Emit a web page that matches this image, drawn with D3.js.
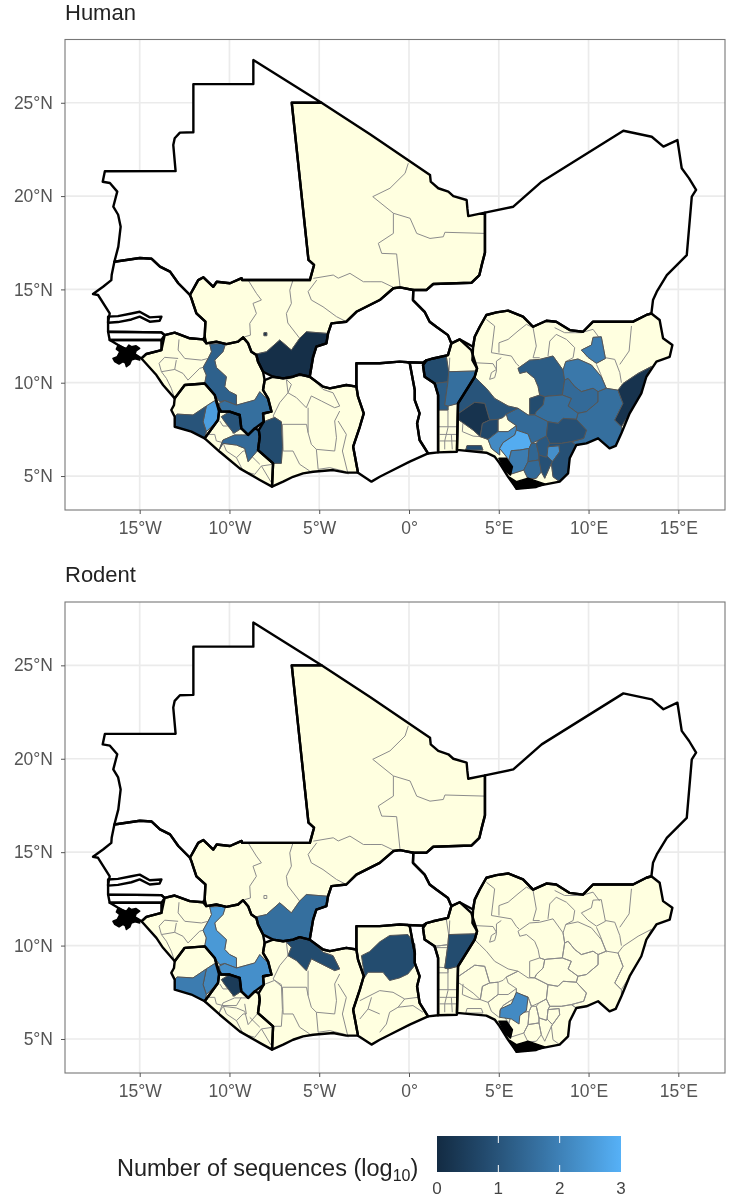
<!DOCTYPE html>
<html>
<head>
<meta charset="utf-8">
<script src="https://cdn.jsdelivr.net/npm/d3@7"></script>
<style>
  body { margin: 0; background: #fff; }
  text { font-family: "Liberation Sans", Arial, sans-serif; }
  svg { display: block; filter: blur(0.35px); }
</style>
</head>
<body>
<div id="chart"></div>
<script>
// everything below is [lon, lat]
const xTicks = [-15, -10, -5, 0, 5, 10, 15];
const yTicks = [5, 10, 15, 20, 25];
const lonRange = [-19.16, 17.6];
const latRange = [3.18, 28.39];
const legendTicks = [0, 1, 2, 3];

// country borders
const mauritania = [[-8.67,27.29],[-8.67,26],[-12.01,26],[-12.01,23.42],[-12.76,23.4],[-13.05,23.1],[-13.13,22.74],[-13,21.34],[-16.94,21.33],[-17.06,20.77],[-16.66,20.7],[-16.25,20.24],[-16.47,19.43],[-16.2,19],[-16.06,18.36],[-16.19,17.29],[-16.41,16.48],[-14.99,16.68],[-14.33,16.64],[-13.87,16.22],[-13.31,15.95],[-12.85,15.33],[-12.2,14.7],[-11.74,15.5],[-11.45,15.65],[-10.9,15.14],[-10.71,15.41],[-9.97,15.33],[-9.32,15.6],[-9.3,15.5],[-5.52,15.5],[-5.29,16.31],[-5.6,16.58],[-6.53,25],[-4.87,25]];
const mali = [[-6.53,25],[-4.87,25],[-2.17,23.31],[1.17,21.13],[1.21,20.77],[1.63,20.42],[2.19,20.24],[2.47,20],[3.21,19.79],[3.25,19.35],[3.3,18.93],[4.23,19.11],[4.23,16.97],[4.05,16.3],[3.92,15.77],[3.49,15.36],[1.35,15.29],[0.98,14.97],[0.24,14.97],[-0.5,15.11],[-0.87,15.06],[-1.63,14.43],[-2.93,13.8],[-3.49,13.27],[-4.32,13.18],[-4.51,12.64],[-4.6,12.11],[-5.16,11.93],[-5.34,11.39],[-5.53,10.32],[-6.09,10.45],[-6.46,10.32],[-7.01,10.23],[-7.57,10.32],[-8.13,10.59],[-8.41,11.13],[-8.5,11.48],[-8.78,11.66],[-8.96,12.11],[-9.24,12.43],[-9.52,12.2],[-10.17,12.07],[-10.73,12.2],[-11.29,12.11],[-11.38,12.46],[-11.34,13.27],[-11.84,13.71],[-12.03,14.25],[-12.12,14.52],[-12.2,14.7],[-11.74,15.5],[-11.45,15.65],[-10.9,15.14],[-10.71,15.41],[-9.97,15.33],[-9.32,15.6],[-9.3,15.5],[-5.52,15.5],[-5.29,16.31],[-5.6,16.58]];
const niger = [[4.23,19.11],[5.81,19.43],[7.39,20.77],[11.94,23.5],[13.52,23.18],[14.17,22.65],[14.95,23],[15.19,21.49],[15.6,20.95],[15.99,20.33],[15.75,19.97],[15.47,16.84],[14.36,15.77],[13.8,14.88],[13.59,14.43],[13.5,13.71],[13.22,13.63],[12.48,13.27],[10.99,13.27],[10.25,13.27],[9.69,12.73],[8.95,12.82],[8.2,13.27],[7.65,13.32],[6.91,13],[6.35,13.54],[5.52,13.86],[4.87,13.77],[4.31,13.63],[3.94,13],[3.66,12.46],[3.57,11.93],[2.82,12.32],[2.36,12.11],[2.17,12.55],[1.52,13],[1.15,13.27],[0.87,13.8],[0.22,14.43],[0.24,14.97],[0.98,14.97],[1.35,15.29],[3.49,15.36],[3.92,15.77],[4.05,16.3],[4.23,16.97]];
const burkina = [[0.24,14.97],[-0.5,15.11],[-0.87,15.06],[-1.63,14.43],[-2.93,13.8],[-3.49,13.27],[-4.32,13.18],[-4.51,12.64],[-4.6,12.11],[-5.16,11.93],[-5.34,11.39],[-5.53,10.32],[-4.79,9.79],[-4.41,9.7],[-3.49,9.88],[-2.93,9.79],[-2.93,11.04],[-1.63,11.04],[-0.52,11.13],[-0.06,11.1],[0.78,11.07],[0.97,11.2],[1.34,11.3],[2.17,11.48],[2.36,12.11],[2.17,12.55],[1.52,13],[1.15,13.27],[0.87,13.8],[0.22,14.43]];
const senegal = [[-16.41,16.48],[-14.99,16.68],[-14.33,16.64],[-13.87,16.22],[-13.31,15.95],[-12.85,15.33],[-12.2,14.7],[-12.12,14.52],[-12.03,14.25],[-11.84,13.71],[-11.34,13.27],[-11.38,12.46],[-11.47,12.32],[-12.21,12.38],[-13.05,12.68],[-13.61,12.55],[-13.79,12.7],[-16.76,12.73],[-16.76,13.27],[-16.67,13.71],[-17.32,14.7],[-17.6,14.75],[-17.04,15.14],[-16.58,15.5],[-16.56,15.77]];
const gambia = [[-16.76,13.54],[-16.21,13.57],[-15.46,13.71],[-15,13.8],[-14.44,13.5],[-13.79,13.54],[-13.89,13.32],[-14.44,13.27],[-15,13.54],[-15.46,13.39],[-16.21,13.25],[-16.76,13.21]];
const casamance = [[-16.76,12.73],[-13.79,12.7],[-13.61,12.55],[-13.79,12.29],[-16.67,12.29]];
const guineaBissau = [[-13.79,12.29],[-13.79,11.75],[-14.63,11.54],[-14.9,11.3],[-15.4,11.6],[-16.2,12.02],[-16.67,12.29]];
const bissagos = [[-16.49,11.3],[-16.25,11.4],[-16.11,11.66],[-16.3,11.8],[-16.2,12.02],[-15.95,11.9],[-15.74,11.84],[-15.6,12.02],[-15.46,11.93],[-15.2,11.98],[-15,11.84],[-15.2,11.7],[-15.28,11.48],[-15.05,11.4],[-15,11.21],[-15.25,11.28],[-15.46,11.21],[-15.55,11],[-15.74,10.86],[-15.8,11.05],[-15.93,11.13],[-16.15,11],[-16.39,11.13]];
const guinea = [[-13.61,12.55],[-13.05,12.68],[-12.21,12.38],[-11.47,12.32],[-11.29,12.11],[-10.73,12.2],[-10.17,12.07],[-9.52,12.2],[-9.24,12.43],[-8.96,12.11],[-8.78,11.66],[-8.5,11.48],[-8.41,11.13],[-8.13,10.59],[-8.04,10.14],[-8.13,9.61],[-7.85,9.16],[-7.66,8.45],[-8.13,8.36],[-8.09,7.91],[-8.59,7.55],[-8.96,7.2],[-9.34,7.55],[-9.43,8.27],[-9.99,8.45],[-10.45,8.45],[-10.58,8.63],[-10.82,9.34],[-11.38,9.96],[-12.49,9.88],[-13.05,9.16],[-13.7,9.88],[-14.07,10.41],[-14.9,11.3],[-14.63,11.54],[-13.79,11.75]];
const sierraLeone = [[-13.09,8.8],[-13.05,9.16],[-12.49,9.88],[-11.38,9.96],[-10.82,9.34],[-10.58,8.45],[-10.64,8],[-11.38,7.02],[-12.12,7.38],[-13.05,7.64],[-13.05,8.18],[-13.24,8.54]];
const liberia = [[-11.38,7.02],[-10.64,8],[-10.58,8.45],[-9.99,8.45],[-9.43,8.27],[-9.34,7.55],[-8.96,7.2],[-8.59,7.55],[-8.37,7.46],[-8.31,7.11],[-8.41,6.39],[-7.57,5.68],[-7.63,4.43],[-8.31,4.79],[-9.43,5.41],[-10.54,6.3]];
const ivoryCoast = [[-7.57,10.32],[-8.04,10.14],[-8.13,9.61],[-7.85,9.16],[-7.66,8.45],[-8.13,8.36],[-8.09,7.91],[-8.37,7.46],[-8.31,7.11],[-8.41,6.39],[-7.57,5.68],[-7.63,4.43],[-7.01,4.7],[-6.46,4.96],[-5.9,5.14],[-5.34,5.23],[-4.23,5.32],[-3.49,5.18],[-2.84,5.18],[-3.11,6.57],[-2.74,7.64],[-2.52,8.36],[-2.84,9.25],[-2.93,9.79],[-3.49,9.88],[-4.41,9.7],[-4.79,9.79],[-5.53,10.32],[-6.09,10.45],[-6.46,10.32],[-7.01,10.23]];
const ghana = [[-2.93,11.04],[-1.63,11.04],[-0.52,11.13],[-0.06,11.1],[0.04,11.04],[0.32,9.61],[0.32,9.07],[0.59,8.36],[0.45,7.82],[0.59,6.93],[1.06,6.21],[0.04,5.77],[-1.08,5.23],[-1.63,4.96],[-2.09,4.7],[-2.84,5.18],[-3.11,6.57],[-2.74,7.64],[-2.52,8.36],[-2.84,9.25],[-2.93,9.79]];
const togo = [[-0.06,11.1],[0.78,11.07],[0.97,11.2],[0.78,10.95],[0.87,10.32],[1.43,9.96],[1.62,9.34],[1.62,6.27],[1.06,6.21],[0.59,6.93],[0.45,7.82],[0.59,8.36],[0.32,9.07],[0.32,9.61],[0.04,11.04]];
const benin = [[0.87,10.32],[0.78,10.95],[0.97,11.2],[1.34,11.3],[2.17,11.48],[2.36,12.11],[2.82,12.32],[3.47,11.75],[3.79,10.77],[3.66,10.32],[2.73,8.89],[2.67,6.3],[1.62,6.27],[1.62,9.34],[1.43,9.96]];
const nigeria = [[3.57,11.93],[3.53,11.21],[3.79,10.77],[3.66,10.32],[2.73,8.89],[2.67,6.4],[4.31,6.25],[4.77,6.04],[5.05,5.68],[5.52,4.96],[5.98,4.34],[7.09,4.46],[8.39,4.7],[8.86,5.14],[8.95,5.95],[9.32,6.66],[9.88,6.75],[10.53,7.02],[11.17,6.48],[11.51,6.61],[11.83,7.29],[12.29,8.36],[12.94,9.43],[13.22,10.32],[13.78,11.13],[14.52,11.39],[14.67,12.02],[14.15,12.38],[13.96,13.36],[13.5,13.71],[13.22,13.63],[12.48,13.27],[10.99,13.27],[10.25,13.27],[9.69,12.73],[8.95,12.82],[8.2,13.27],[7.65,13.32],[6.91,13],[6.35,13.54],[5.52,13.86],[4.87,13.77],[4.31,13.63],[3.94,13],[3.66,12.46]];
const nigerDeltaWest = [[5.01,5.95],[5.42,5.95],[5.76,5.5],[5.65,5.05],[5.33,5.32]];
const nigerDeltaSouth = [[5.61,4.93],[5.98,4.7],[6.63,4.88],[7.19,4.7],[7.56,4.57],[7.09,4.39],[5.98,4.29]];

const countryNames = ["mauritania","mali","niger","burkina","senegal","gambia","casamance","guineaBissau","guinea","sierraLeone","liberia","ivoryCoast","ghana","togo","benin","nigeria"];
const countryShapes = [mauritania,mali,niger,burkina,senegal,gambia,casamance,guineaBissau,guinea,sierraLeone,liberia,ivoryCoast,ghana,togo,benin,nigeria];
const humanSampled = ["mali","guinea","sierraLeone","liberia","ivoryCoast","benin","nigeria"];
const rodentSampled = ["mali","guinea","sierraLeone","liberia","ivoryCoast","ghana","benin","nigeria"];

// admin units with a value in at least one panel
const sikasso = [[-8.5,11.54],[-7.94,11.66],[-7.2,12.29],[-6.55,11.75],[-6.09,12.38],[-5.72,12.73],[-4.51,12.64],[-4.6,12.11],[-5.16,11.93],[-5.34,11.39],[-5.53,10.32],[-6.09,10.45],[-6.46,10.32],[-7.01,10.23],[-7.57,10.32],[-8.13,10.59],[-8.41,11.13]];
const bamako = [[-8.08,12.68],[-7.92,12.68],[-7.92,12.52],[-8.08,12.52]];
const kankan = [[-11.1,12.07],[-10.21,12.11],[-10.36,11.66],[-10.82,11.21],[-10.73,10.82],[-10.17,10.32],[-10.26,9.79],[-9.99,9.52],[-9.61,9.34],[-9.61,8.8],[-10.26,9.04],[-10.54,8.98],[-10.82,9.34],[-11.38,9.96],[-11.29,10.41],[-11.47,10.82],[-11.19,11.3],[-11,11.66]];
const nzerekore = [[-9.61,8.8],[-8.59,9.07],[-8.31,9.52],[-7.85,9.07],[-7.66,8.45],[-8.13,8.27],[-8.09,7.91],[-8.59,7.55],[-8.96,7.2],[-9.34,7.55],[-9.43,8.27],[-9.99,8.5],[-10.45,8.45],[-10.58,8.89],[-10.26,9.04]];
const slEast = [[-11.29,8.75],[-10.82,9.04],[-10.58,8.45],[-10.64,8],[-11.29,7.38],[-11.47,7.91]];
const slSouth = [[-12.92,8.32],[-12.03,8.27],[-11.29,8.75],[-11.47,7.91],[-11.29,7.38],[-11.38,7.02],[-12.12,7.38],[-13.05,7.64],[-13.05,8.18]];
const lofa = [[-10.45,8.18],[-9.99,8.45],[-9.43,8.27],[-9.34,7.55],[-9.76,7.29],[-10.26,7.91]];
const bongNimba = [[-10.58,6.39],[-10.36,6.93],[-9.71,7.2],[-8.96,7.2],[-8.59,7.55],[-8.37,7.46],[-8.41,6.39],[-8.96,5.77],[-9.15,6.48],[-9.61,6.66],[-10.36,6.75]];
const manRegion = [[-8.09,7.91],[-7.48,8.14],[-7.11,7.91],[-7.05,6.57],[-7.11,5.68],[-7.57,5.68],[-8.41,6.39],[-8.31,7.11],[-8.37,7.46]];
const ciNorth = [[-6.83,10.18],[-6.27,10.36],[-5.53,10.36],[-4.79,9.64],[-4.23,9.46],[-3.86,8.75],[-4.14,8.66],[-4.88,9.02],[-5.44,9.29],[-5.72,8.66],[-6.27,9.2],[-6.74,9.46],[-6.55,9.91]];
const ghanaNorth = [[-2.65,9.46],[-2.19,9.68],[-1.63,10.2],[-1.08,10.54],[-0.06,10.59],[0.32,10.09],[0.37,9.55],[0.32,8.93],[-0.06,8.48],[-0.52,8.27],[-1.08,8.13],[-1.45,8.57],[-2.28,8.57],[-2.47,8.3]];
const atacora = [[0.87,10.32],[0.78,10.95],[0.97,11.2],[1.34,11.3],[2.08,11.4],[2.21,10.59],[2.17,10.05],[1.43,9.96]];
const donga = [[1.43,9.96],[2.17,10.05],[1.99,8.8],[2.17,8.75],[2.17,8.54],[1.62,8.54],[1.62,9.34]];
const borgou = [[2.21,10.59],[3.79,10.63],[3.66,10.32],[2.73,8.89],[2.17,8.75],[1.99,8.8],[2.17,10.05]];
const kaduna = [[6.07,10.77],[6.72,11.21],[7.28,11.25],[8.02,11.43],[8.58,10.68],[8.67,10.14],[8.54,9.34],[7.74,9.28],[7.56,9.25],[7.28,9.34],[7.19,9.79],[7,10.23],[6.54,10.59],[6.17,10.5]];
const bauchi = [[8.73,11.13],[9.41,11.27],[10.16,10.95],[10.71,10.32],[10.99,9.7],[10.53,9.52],[10.25,9.7],[9.6,9.52],[9.23,9.79],[8.86,10.23],[8.67,10.14],[8.58,10.68]];
const jigawa = [[10.25,12.43],[10.71,12.46],[10.94,11.3],[10.44,11.04],[9.97,11.36],[9.6,11.75],[10.16,12.02]];
const plateau = [[8.67,10.14],[8.86,10.23],[9.23,9.79],[9.6,9.52],[10.25,9.7],[10.53,9.52],[10.53,8.98],[9.88,8.45],[9.41,8.36],[8.86,8.75],[9.04,9.16],[8.54,9.34]];
const taraba = [[10.53,9.52],[10.99,9.7],[11.64,9.6],[11.92,8.89],[11.46,8],[11.83,7.64],[11.83,7.29],[11.51,6.61],[11.17,6.48],[10.53,7.02],[9.88,6.75],[9.32,6.66],[9.04,6.84],[9.73,7.02],[9.88,7.46],[9.32,8.04],[9.41,8.36],[9.88,8.45],[10.53,8.98]];
const adamawa = [[11.92,9.96],[12.76,10.5],[13.5,10.87],[13.22,10.32],[12.94,9.43],[12.29,8.36],[11.83,7.64],[11.46,8],[11.92,8.89],[11.64,9.6]];
const fct = [[6.72,9.16],[7.28,9.34],[7.56,9.25],[7.47,8.8],[7.09,8.45],[7,8.27],[6.72,8.3]];
const nasarawa = [[7.56,9.25],[7.74,9.28],[8.54,9.34],[9.04,9.16],[8.86,8.75],[9.41,8.36],[9.32,8.04],[8.58,8.09],[8.3,7.82],[7.74,7.91],[7,8.27],[7.09,8.45],[7.47,8.8]];
const kogi = [[5.42,8.32],[6.07,8.63],[6.63,8.27],[7,8.27],[7.74,7.91],[7.65,7.14],[7.24,6.93],[6.82,6.75],[6.63,7.25],[5.98,7.46],[5.98,7.7],[5.52,8]];
const benue = [[7.74,7.91],[8.3,7.82],[8.58,8.09],[9.32,8.04],[9.88,7.46],[9.73,7.02],[9.04,6.84],[8.49,6.75],[7.84,6.75],[7.65,7.14]];
const kwara = [[2.73,8.89],[3.66,10.32],[3.94,10.05],[4.31,9.7],[4.77,9.16],[5.52,8.75],[6.07,8.63],[5.42,8.32],[5.24,8.14],[4.96,8.04],[4.49,8],[4.22,8.89],[3.66,8.95],[2.77,8.36]];
const oyo = [[2.77,8.36],[3.66,8.95],[4.22,8.89],[4.49,8],[4.09,7.82],[3.97,7.11],[3.57,7.46],[2.92,7.91],[2.77,8]];
const osun = [[4.09,7.82],[4.49,8],[4.96,8.04],[4.96,7.38],[4.4,6.96],[3.97,7.11]];
const ondo = [[4.4,6.96],[4.96,7.38],[5.52,7.38],[5.98,7.7],[5.98,7.46],[5.89,7.2],[5.24,6.79],[5.05,6.48],[5.05,6.13],[4.59,6.48]];
const edo = [[5.98,7.46],[6.63,7.25],[6.82,6.75],[6.69,6.48],[6.17,6.39],[5.7,6.36],[5.57,5.86],[5.05,6.48],[5.24,6.79],[5.89,7.2]];
const edoDelta = [[5.98,7.5],[6.63,7.23],[6.54,6.52],[6.17,6.25],[6.13,5.8],[5.7,6.07],[5.05,6.16],[5.09,6.61],[5.7,6.88]];
const delta = [[5.7,6.36],[6.17,6.39],[6.69,6.48],[6.63,5.77],[6.39,5.32],[5.7,5.11],[5.57,5.86]];
const anambra = [[6.82,6.75],[7.09,6.75],[7.24,6.13],[7.24,5.86],[6.63,5.77],[6.69,6.48]];
const enugu = [[7.09,6.75],[7.24,6.93],[7.65,7.14],[7.84,6.75],[7.74,6.57],[7.69,6.07],[7.65,6],[7.24,6.13]];
const ebonyi = [[7.74,6.57],[8.36,6.63],[8.39,6.3],[7.99,5.77],[7.69,6.07]];
const crossRiver = [[7.84,6.75],[8.49,6.75],[9.04,6.84],[9.32,6.66],[8.95,5.95],[8.86,5.14],[8.39,4.7],[8.02,4.96],[7.93,5.68],[7.99,5.77],[8.39,6.3],[8.36,6.63],[7.74,6.57]];
const imo = [[6.63,5.77],[7.24,5.86],[7.37,5.23],[7.09,4.88],[6.63,4.84],[6.39,5.32]];
const akwaIbom = [[7.24,5.86],[7.24,6.13],[7.65,6],[7.69,6.07],[7.99,5.77],[7.93,5.68],[7.56,4.88],[7.37,5.23]];
const lagos = [[3.23,6.63],[4.03,6.63],[4.12,6.39],[3.16,6.39]];

const regionNames = ["sikasso","bamako","kankan","nzerekore","slEast","slSouth","lofa","bongNimba","manRegion","ciNorth","atacora","donga","borgou","kaduna","bauchi","jigawa","plateau","taraba","adamawa","fct","nasarawa","kogi","benue","kwara","oyo","osun","ondo","edo","delta","anambra","enugu","ebonyi","crossRiver","imo","akwaIbom","lagos","ghanaNorth","edoDelta"];
const regionShapes = [sikasso,bamako,kankan,nzerekore,slEast,slSouth,lofa,bongNimba,manRegion,ciNorth,atacora,donga,borgou,kaduna,bauchi,jigawa,plateau,taraba,adamawa,fct,nasarawa,kogi,benue,kwara,oyo,osun,ondo,edo,delta,anambra,enugu,ebonyi,crossRiver,imo,akwaIbom,lagos,ghanaNorth,edoDelta];
const notOutlined = ["ghanaNorth","edoDelta"];

// log10 sequence counts
const humanNames = ["sikasso","bamako","kankan","nzerekore","slEast","slSouth","lofa","bongNimba","manRegion","atacora","donga","borgou","kaduna","bauchi","jigawa","plateau","taraba","adamawa","fct","nasarawa","kogi","benue","kwara","oyo","osun","ondo","edo","delta","anambra","enugu","ebonyi","crossRiver","imo","akwaIbom","lagos"];
const humanValues = [0.1,0.1,1.3,1.6,2.6,1.0,1.0,1.5,0.8,0.8,1.2,1.6,1.2,1.8,1.9,1.5,1.6,0.2,0.8,1.6,1.5,0.9,1.0,0.2,0.7,2.2,2.9,1.9,1.4,1.1,2.3,0.9,1.5,0.9,0.8];
const rodentNames = ["kankan","nzerekore","slEast","slSouth","lofa","sikasso","ciNorth","ghanaNorth","borgou","edoDelta"];
const rodentValues = [2.5,2.3,2.1,1.9,0.4,1.6,0.8,0.8,0.8,2.2];

// thin internal boundaries of the units with no value
const maliLines = [
  [[-0.04,21.76],[-0.22,21.22],[-1.06,20.42],[-2.02,19.97],[-0.87,19.08],[-0.87,18],[-1.71,17.47],[-1.52,16.93],[-0.69,16.9],[-0.5,15.14]],
  [[-0.87,19.08],[0.06,18.81],[0.43,18],[1.17,17.73],[1.91,17.82],[2,18.06],[4.23,18]],
  [[-5.33,15.59],[-4.22,15.77],[-3.94,15.6],[-3.29,15.86],[-2.54,15.41],[-2.17,15.41],[-1.52,15.41],[-0.87,15.11]],
  [[-8.96,15.5],[-8.5,14.79],[-8.22,14.43],[-8.69,14.25],[-8.5,13.71],[-8.87,13.18],[-8.83,12.55],[-9.15,12.46]],
  [[-6.46,15.5],[-6.64,14.96],[-6.55,14.25],[-6.83,13.71],[-6.75,13.2],[-6.09,12.38]],
  [[-5.14,15.5],[-5.62,14.88],[-5.44,14.43],[-4.79,14.07],[-4.04,13.54],[-3.49,13.27]]
];
const guineaLines = [
  [[-12.81,12.32],[-12.86,11.75],[-12.49,11.3],[-11.56,11.21],[-11.19,11.3]],
  [[-12.86,11.3],[-13.61,11.36],[-13.92,11.04],[-13.79,10.59],[-13.05,10.71],[-12.96,11.21]],
  [[-13.05,10.71],[-12.59,10.5],[-12.31,10.14],[-12.03,10.41],[-11.66,10.77],[-11.47,10.82]],
  [[-13.79,10.59],[-13.51,10.23],[-13.24,9.7],[-13.05,9.16]]
];
const liberiaLines = [
  [[-10.54,7.95],[-10.36,7.68],[-9.89,7.68],[-9.8,7.27]],
  [[-11.19,7.23],[-10.82,7.23],[-10.73,6.88],[-10.36,6.79],[-9.61,6.79],[-9.34,7.23]],
  [[-10.36,6.79],[-10.17,6.34],[-9.61,5.98],[-9.24,6.34],[-9.06,6.34],[-9.15,6.88]],
  [[-9.61,5.98],[-9.24,5.27],[-8.59,5.09],[-8.22,5.54],[-7.57,5.63]],
  [[-8.87,6.16],[-8.31,5.63]],
  [[-8.22,5.54],[-7.66,4.64]]
];
const ivoryLines = [
  [[-6.83,10.18],[-6.74,9.46],[-7.2,8.93],[-7.57,8.21],[-7.05,7.77],[-7.01,6.34],[-6.46,6.34],[-6.09,5.63],[-5.53,5.27]],
  [[-5.62,8.66],[-5.62,7.32],[-5.44,6.7],[-5.16,6.43],[-5.06,5.36]],
  [[-7.05,7.77],[-5.71,7.77],[-5.62,7.32]],
  [[-5.16,6.43],[-4.14,6.34],[-4.04,7.05],[-4.14,7.95],[-3.86,8.48]],
  [[-3.95,7.95],[-3.49,7.23],[-3.71,6.34],[-3.39,5.09]],
  [[-5.06,5.36],[-4.41,5.45],[-3.49,5.23]]
];
const ghanaLines = [
  [[-2.74,7.05],[-1.63,7.59],[-0.89,7.5],[-0.24,7.14],[0.5,7.23]],
  [[-0.24,7.14],[-0.61,6.7],[-1.08,6.43],[-1.26,5.8],[-1.63,5.36]],
  [[-0.61,6.7],[0.22,6.79],[0.78,6.43]],
  [[-2.09,7.23],[-2.28,6.61],[-2.74,6.07]],
  [[-1.63,6.34],[-2.28,6.61]]
];
const beninLines = [
  [[2.27,11.34],[2.23,10.54]],
  [[1.34,9.89],[2.17,9.89]],
  [[1.67,8.84],[2.27,8.8]],
  [[1.67,7.64],[2.67,7.64]],
  [[2.17,8.77],[2.17,7.59],[1.99,6.88],[1.99,6.43]],
  [[1.71,7.23],[2.67,7.23]],
  [[2.36,7.23],[2.41,6.43]],
  [[1.71,6.88],[2.67,6.88]]
];
const nigeriaLines = [
  [[4.31,13.39],[4.77,13.04],[4.59,11.61],[5.7,11.43],[5.98,11.02],[6.13,10.89]],
  [[5.01,12.14],[5.52,12.32],[6.07,12.77],[6.54,13.13],[6.91,12.95],[7.09,11.96],[6.91,11.34],[7.28,11.34]],
  [[5.01,12.14],[5.01,11.61]],
  [[3.66,11.07],[4.68,11.02],[4.87,10.71],[4.59,10.54],[4.49,10.18],[4.77,10.27],[4.87,10.63],[4.87,11.16],[5.14,11.34]],
  [[7.74,11.43],[7.84,12.23],[8.2,12.59],[8.77,12.32],[9.23,11.88],[9.14,11.34],[8.73,11.13]],
  [[8.11,12.95],[8.67,12.68],[9.6,12.68],[10.25,12.86],[10.62,12.38]],
  [[10.44,10.98],[10.66,10.5],[10.99,9.64]],
  [[10.94,11.34],[11.46,11.25],[11.74,10.54],[11.83,10]],
  [[12.39,13.04],[12.26,11.7],[11.74,10.98]],
  [[3.01,7.95],[2.97,7.38],[3.57,7.14],[3.97,7.11]]
];

const humanLineSets = [maliLines, guineaLines, liberiaLines, ivoryLines, beninLines, nigeriaLines];
const rodentLineSets = [maliLines, guineaLines, liberiaLines, ivoryLines, ghanaLines, beninLines, nigeriaLines];

var width = 738, height = 1199;
var svg = d3.select("#chart").append("svg").attr("width", width).attr("height", height);

var x = d3.scaleLinear().domain(lonRange).range([65, 725]);
var colour = d3.scaleLinear().domain([0, 3]).range(["#132B43", "#56B1F7"]).interpolate(d3.interpolateLab);

function lonLabel(d) { return d === 0 ? "0°" : Math.abs(d) + (d < 0 ? "°W" : "°E"); }
function latLabel(d) { return d + "°N"; }

function drawPanel(title, top, bottom, names, values, sampled, lineSets) {
  var y = d3.scaleLinear().domain(latRange).range([bottom, top]);
  var ring = d3.line().x(d => x(d[0])).y(d => y(d[1])).curve(d3.curveLinearClosed);
  var open = d3.line().x(d => x(d[0])).y(d => y(d[1]));

  var g = svg.append("g");

  g.append("rect").attr("x", 65).attr("y", top).attr("width", 660).attr("height", bottom - top).attr("fill", "#fff");

  g.selectAll(".vgrid").data(xTicks).enter().append("line").attr("class", "vgrid")
    .attr("x1", d => x(d)).attr("x2", d => x(d)).attr("y1", top).attr("y2", bottom)
    .attr("stroke", "#ebebeb").attr("stroke-width", 1.7);
  g.selectAll(".hgrid").data(yTicks).enter().append("line").attr("class", "hgrid")
    .attr("x1", 65).attr("x2", 725).attr("y1", d => y(d)).attr("y2", d => y(d))
    .attr("stroke", "#ebebeb").attr("stroke-width", 1.7);

  // countries first, white unless sampled in this panel
  g.selectAll(".country").data(countryShapes).enter().append("path").attr("class", "country")
    .attr("d", ring)
    .attr("fill", (d, i) => sampled.includes(countryNames[i]) ? "#FFFFE0" : "#fff");

  lineSets.forEach(function(set) {
    g.append("g").selectAll("path").data(set).enter().append("path")
      .attr("d", open).attr("fill", "none").attr("stroke", "#8c8c8c").attr("stroke-width", 1);
  });

  // outlines of all the units, coloured or not
  regionShapes.forEach(function(shape, i) {
    if (notOutlined.includes(regionNames[i])) return;
    g.append("path").attr("d", ring(shape)).attr("fill", "none").attr("stroke", "#8c8c8c").attr("stroke-width", 1);
  });

  names.forEach(function(name, i) {
    g.append("path").datum(regionShapes[regionNames.indexOf(name)])
      .attr("d", ring)
      .attr("fill", colour(values[i]))
      .attr("stroke", "#555").attr("stroke-width", 1).attr("stroke-linejoin", "round");
  });

  // creeks in the delta and the Bissagos islands close up to solid black
  g.selectAll(".solid").data([nigerDeltaWest, nigerDeltaSouth, bissagos]).enter().append("path").attr("class", "solid")
    .attr("d", ring).attr("fill", "#000").attr("stroke", "#000").attr("stroke-width", 1.5).attr("stroke-linejoin", "round");

  g.selectAll(".border").data(countryShapes).enter().append("path").attr("class", "border")
    .attr("d", ring).attr("fill", "none").attr("stroke", "#000").attr("stroke-width", 2.4).attr("stroke-linejoin", "round");

  g.append("rect").attr("x", 65).attr("y", top).attr("width", 660).attr("height", bottom - top)
    .attr("fill", "none").attr("stroke", "#777").attr("stroke-width", 1.1);

  var xAxis = g.append("g").attr("transform", "translate(0," + bottom + ")")
    .call(d3.axisBottom(x).tickValues(xTicks).tickFormat(lonLabel).tickSize(4).tickPadding(8));
  var yAxis = g.append("g").attr("transform", "translate(65,0)")
    .call(d3.axisLeft(y).tickValues(yTicks).tickFormat(latLabel).tickSize(4).tickPadding(8));
  [xAxis, yAxis].forEach(function(a) {
    a.select(".domain").remove();
    a.selectAll(".tick line").attr("stroke", "#555");
    a.selectAll("text").attr("fill", "#555").style("font-size", "17.5px").style("font-family", '"Liberation Sans", Arial, sans-serif');
  });

  g.append("text").attr("x", 65).attr("y", top - 20).attr("fill", "#222").style("font-size", "22px").text(title);
}

drawPanel("Human", 39.5, 510, humanNames, humanValues, humanSampled, humanLineSets);
drawPanel("Rodent", 602, 1073, rodentNames, rodentValues, rodentSampled, rodentLineSets);

// legend
var legendX = d3.scaleLinear().domain([0, 3]).range([437, 621]);
var grad = svg.append("defs").append("linearGradient").attr("id", "bar");
d3.range(0, 3.01, 0.25).forEach(function(v) {
  grad.append("stop").attr("offset", (v / 3 * 100) + "%").attr("stop-color", colour(v));
});
svg.append("rect").attr("x", 437).attr("y", 1136).attr("width", 184).attr("height", 36).attr("fill", "url(#bar)");
svg.selectAll(".ltick").data([1, 2]).enter().append("line").attr("class", "ltick")
  .attr("x1", d => legendX(d)).attr("x2", d => legendX(d)).attr("y1", 1136).attr("y2", 1143)
  .attr("stroke", "#fff").attr("stroke-width", 1);
svg.selectAll(".ltick2").data([1, 2]).enter().append("line").attr("class", "ltick2")
  .attr("x1", d => legendX(d)).attr("x2", d => legendX(d)).attr("y1", 1165).attr("y2", 1172)
  .attr("stroke", "#fff").attr("stroke-width", 1);
svg.selectAll(".llabel").data(legendTicks).enter().append("text").attr("class", "llabel")
  .attr("x", d => legendX(d)).attr("y", 1194).attr("text-anchor", "middle")
  .attr("fill", "#444").style("font-size", "17px").text(d => d);

var lt = svg.append("text").attr("x", 117).attr("y", 1176).attr("fill", "#222").style("font-size", "23.5px");
lt.append("tspan").text("Number of sequences (log");
lt.append("tspan").attr("dy", 5).style("font-size", "16px").text("10");
lt.append("tspan").attr("dy", -5).text(")");
</script>
</body>
</html>
